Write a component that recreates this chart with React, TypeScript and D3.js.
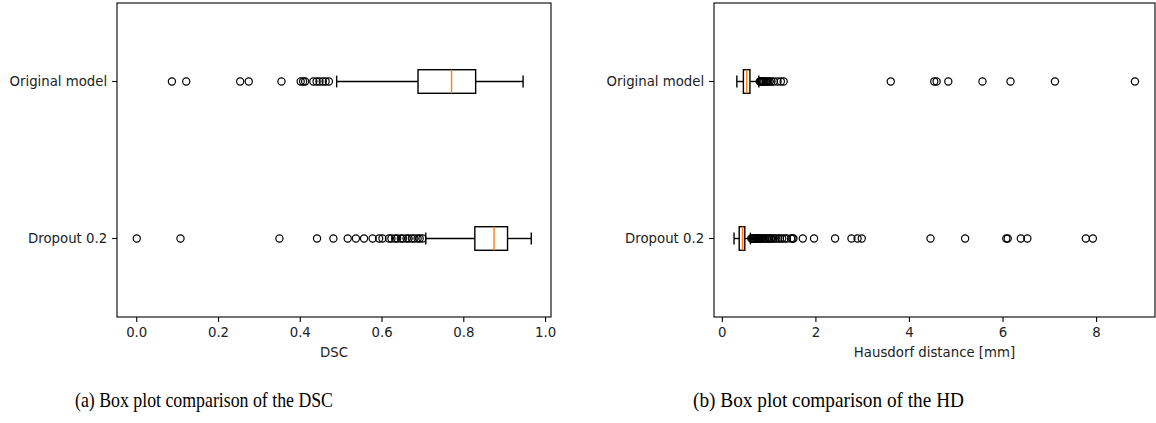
import React, { useEffect, useRef } from "react";
import * as d3 from "d3";

// rows, bottom to top (matplotlib position 1, 2)
const categories = ["Dropout 0.2", "Original model"];

// DSC box stats: [whiskerLow, q1, median, q3, whiskerHigh]
const dscDropoutStats = [0.707, 0.827, 0.874, 0.907, 0.965];
const dscOriginalStats = [0.489, 0.688, 0.77, 0.829, 0.945];
const dscDropoutFliers = [
  0.0, 0.107, 0.349, 0.441, 0.481, 0.516, 0.536, 0.556, 0.577, 0.593, 0.601,
  0.617, 0.623, 0.632, 0.637, 0.646, 0.651, 0.66, 0.665, 0.673, 0.679, 0.687,
  0.692, 0.699,
];
const dscOriginalFliers = [
  0.086, 0.121, 0.253, 0.274, 0.354, 0.401, 0.407, 0.412, 0.432, 0.44, 0.447,
  0.455, 0.462, 0.47,
];

// HD box stats
const hdDropoutStats = [0.25, 0.36, 0.43, 0.48, 0.6];
const hdOriginalStats = [0.31, 0.45, 0.52, 0.59, 0.78];
const hdDropoutFliers = [
  0.62, 0.64, 0.66, 0.68, 0.7, 0.72, 0.74, 0.76, 0.78, 0.8, 0.82, 0.85, 0.87,
  0.9, 0.92, 0.95, 0.98, 1.0, 1.03, 1.06, 1.1, 1.14, 1.19, 1.23, 1.28, 1.33,
  1.38, 1.47, 1.5, 1.52, 1.72, 1.96, 2.41, 2.76, 2.89, 2.98, 4.45, 5.19, 6.07,
  6.1, 6.38, 6.52, 7.77, 7.92,
];
const hdOriginalFliers = [
  0.8, 0.82, 0.84, 0.86, 0.88, 0.9, 0.93, 0.95, 0.98, 1.01, 1.05, 1.1, 1.18,
  1.25, 1.31, 3.6, 4.53, 4.58, 4.83, 5.56, 6.16, 7.11, 8.82,
];

const dscTicks = [0, 0.2, 0.4, 0.6, 0.8, 1.0];
const hdTicks = [0, 2, 4, 6, 8];

const panels = [
  {
    left: 117, right: 551, domain: [-0.0483, 1.0133], ticks: dscTicks,
    fmt: d3.format(".1f"), xlabel: "DSC",
    caption: "(a) Box plot comparison of the DSC", capX: 75, capW: 258,
    stats: [dscDropoutStats, dscOriginalStats],
    fliers: [dscDropoutFliers, dscOriginalFliers],
  },
  {
    left: 714, right: 1155, domain: [-0.1785, 9.2485], ticks: hdTicks,
    fmt: d3.format("d"), xlabel: "Hausdorf distance [mm]",
    caption: "(b) Box plot comparison of the HD", capX: 693, capW: 271,
    stats: [hdDropoutStats, hdOriginalStats],
    fliers: [hdDropoutFliers, hdOriginalFliers],
  },
];

const FONT = "DejaVu Sans";
const FS = 13.3;

const App = () => {
  const ref = useRef(null);

  useEffect(() => {
    const svg = d3.select(ref.current);
    svg.selectAll("*").remove();

    const top = 3;
    const bottom = 317;
    const y = d3.scaleLinear().domain([0.5, 2.5]).range([bottom, top]);
    const half = y(0.5) - y(0.575);
    const lw = 1.4;

    panels.forEach((p) => {
      const x = d3.scaleLinear().domain(p.domain).range([p.left, p.right]);
      const g = svg.append("g");

      p.stats.forEach((s, i) => {
        const cy = y(i + 1);
        const [lo, q1, med, q3, hi] = s;
        // fliers
        g.selectAll(null)
          .data(p.fliers[i])
          .enter()
          .append("circle")
          .attr("cx", (d) => x(d))
          .attr("cy", cy)
          .attr("r", 3.6)
          .attr("fill", "none")
          .attr("stroke", "#000")
          .attr("stroke-width", 1.2);
        // whiskers
        g.append("line").attr("x1", x(lo)).attr("x2", x(q1)).attr("y1", cy).attr("y2", cy)
          .attr("stroke", "#000").attr("stroke-width", lw);
        g.append("line").attr("x1", x(q3)).attr("x2", x(hi)).attr("y1", cy).attr("y2", cy)
          .attr("stroke", "#000").attr("stroke-width", lw);
        // caps
        [lo, hi].forEach((c) => {
          g.append("line").attr("x1", x(c)).attr("x2", x(c))
            .attr("y1", cy - half / 2).attr("y2", cy + half / 2)
            .attr("stroke", "#000").attr("stroke-width", lw);
        });
        // box
        g.append("rect")
          .attr("x", x(q1)).attr("y", cy - half)
          .attr("width", x(q3) - x(q1)).attr("height", half * 2)
          .attr("fill", "none").attr("stroke", "#000").attr("stroke-width", lw);
        // median
        g.append("line").attr("x1", x(med)).attr("x2", x(med))
          .attr("y1", cy - half).attr("y2", cy + half)
          .attr("stroke", "#ff7f0e").attr("stroke-width", lw);
      });

      // frame
      g.append("rect")
        .attr("x", p.left).attr("y", top)
        .attr("width", p.right - p.left).attr("height", bottom - top)
        .attr("fill", "none").attr("stroke", "#000").attr("stroke-width", 1.1);

      // x ticks
      p.ticks.forEach((t) => {
        g.append("line").attr("x1", x(t)).attr("x2", x(t))
          .attr("y1", bottom).attr("y2", bottom + 4.9)
          .attr("stroke", "#000").attr("stroke-width", 1.1);
        g.append("text").attr("x", x(t)).attr("y", bottom + 20)
          .attr("text-anchor", "middle")
          .attr("font-family", FONT).attr("font-size", FS)
          .attr("fill", "#222").text(p.fmt(t));
      });

      // y ticks
      categories.forEach((c, i) => {
        const cy = y(i + 1);
        g.append("line").attr("x1", p.left - 4.9).attr("x2", p.left)
          .attr("y1", cy).attr("y2", cy)
          .attr("stroke", "#000").attr("stroke-width", 1.1);
        g.append("text").attr("x", p.left - 9.8).attr("y", cy)
          .attr("dy", "0.35em").attr("text-anchor", "end")
          .attr("font-family", FONT).attr("font-size", FS)
          .attr("fill", "#222").text(c);
      });

      const cx = (p.left + p.right) / 2;
      g.append("text").attr("x", cx).attr("y", bottom + 40)
        .attr("text-anchor", "middle")
        .attr("font-family", FONT).attr("font-size", FS)
        .attr("fill", "#222").text(p.xlabel);

      g.append("text").attr("x", p.capX).attr("y", 407)
        .attr("font-family", "Liberation Serif").attr("font-size", 21)
        .attr("textLength", p.capW).attr("lengthAdjust", "spacingAndGlyphs")
        .attr("fill", "#000").text(p.caption);
    });
  }, []);

  return (
    <svg
      ref={ref}
      width={1156}
      height={423}
      style={{ position: "absolute", left: 0, top: 0, background: "#fff" }}
    ></svg>
  );
};

export default App;
